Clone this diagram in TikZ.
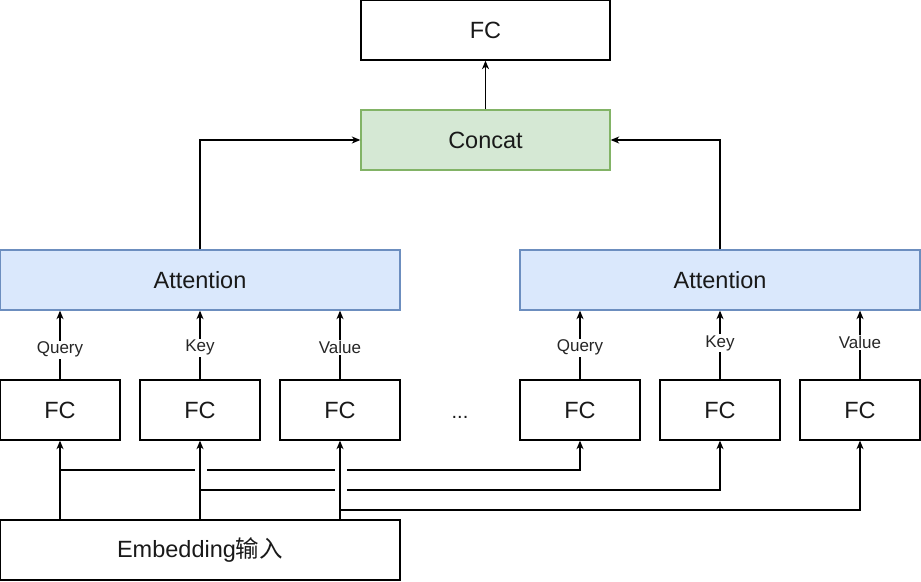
\documentclass[tikz,border=0pt]{standalone}
\usepackage{fontspec}
\setmainfont{Liberation Sans}
\newfontfamily\cjk{Noto Sans CJK SC}
\usetikzlibrary{arrows.meta}
\definecolor{bluefill}{HTML}{DAE8FC}
\definecolor{bluedraw}{HTML}{6C8EBF}
\definecolor{greenfill}{HTML}{D5E8D4}
\definecolor{greendraw}{HTML}{82B366}
\begin{document}
\begin{tikzpicture}[x=1pt,y=-1pt,
  box/.style={draw=black, line width=1.3pt, minimum width=#1, minimum height=60pt,
    inner sep=0pt, font=\fontsize{23.5}{28}\selectfont, text=black!90},
  box/.default=120pt,
  bluebox/.style={box=400pt, fill=bluefill, draw=bluedraw},
  greenbox/.style={box=249pt, fill=greenfill, draw=greendraw},
  arr/.style={-{Stealth[length=8.5pt,width=7pt,inset=2.5pt]}, line width=1.3pt},
  lbl/.style={fill=white, font=\fontsize{17}{20}\selectfont, inner sep=1.5pt, text=black!85},
  gapfill/.style={fill=white, draw=none}]
\useasboundingbox (0,0) rectangle (921,581);
% nodes
\node[box=249pt] (fc) at (485.5,30) {FC};
\node[greenbox] (concat) at (485.5,140) {Concat};
\node[bluebox] (attL) at (200,280) {Attention};
\node[bluebox] (attR) at (720,280) {Attention};
\node[box] (f1) at (60,410) {FC};
\node[box] (f2) at (200,410) {FC};
\node[box] (f3) at (340,410) {FC};
\node[box] (f4) at (580,410) {FC};
\node[box] (f5) at (720,410) {FC};
\node[box] (f6) at (860,410) {FC};
\node[font=\fontsize{20}{24}\selectfont, text=black!90, anchor=base, inner sep=0pt] (dots) at (460,418.5) {...};
\node[box=400pt] (emb) at (200,550) {Embedding{\cjk 输入}};
% branch connectors
\coordinate (j1) at (60,470);
\coordinate (j2) at (200,490);
\coordinate (j3) at (340,510);
\draw[arr] (j1) -| (f4.south);
\draw[arr] (j2) -| (f5.south);
\draw[arr] (j3) -| (f6.south);
% line jumps
\fill[gapfill] (195,464) rectangle (207,476);
\fill[gapfill] (335,464) rectangle (347,476);
\fill[gapfill] (335,484) rectangle (347,496);
% embedding to first FCs
\draw[arr] (emb.north -| f1) -- (f1.south);
\draw[arr] (emb.north -| f2) -- (f2.south);
\draw[arr] (emb.north -| f3) -- (f3.south);
% Q K V
\draw[arr] (f1.north) -- node[lbl, pos=0.43] {Query} (attL.south -| f1);
\draw[arr] (f2.north) -- node[lbl, pos=0.46] {Key} (attL.south -| f2);
\draw[arr] (f3.north) -- node[lbl, pos=0.46] {Value} (attL.south -| f3);
\draw[arr] (f4.north) -- node[lbl, pos=0.46] {Query} (attR.south -| f4);
\draw[arr] (f5.north) -- node[lbl, pos=0.53] {Key} (attR.south -| f5);
\draw[arr] (f6.north) -- node[lbl, pos=0.54] {Value} (attR.south -| f6);
% to concat and FC
\draw[arr] (attL.north) |- (concat.west);
\draw[arr] (attR.north) |- (concat.east);
\draw[arr] (concat.north) -- (fc.south);
\end{tikzpicture}
\end{document}
